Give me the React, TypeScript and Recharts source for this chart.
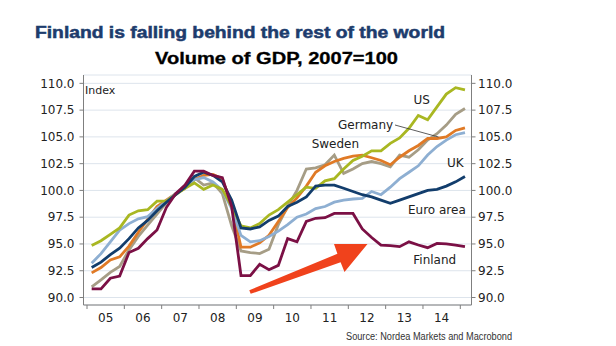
import React from 'react';
import { LineChart, Line, XAxis, YAxis, CartesianGrid } from 'recharts';

// quarterly observations, 2005Q1 .. 2015Q1
const years = [2005, 2006, 2007, 2008, 2009, 2010, 2011, 2012, 2013, 2014, 2015];
const quarters = years.flatMap(y => (y < 2015 ? [1, 2, 3, 4] : [1]).map(q => `${y}Q${q}`));

const us = [94.85, 95.3, 95.9, 96.5, 97.7, 98.1, 98.2, 99.0, 99.0, 99.6, 100.2, 100.7, 100.1, 100.5, 100.1, 98.5, 96.7, 96.5, 96.9, 97.7, 98.2, 98.9, 99.6, 100.3, 100.2, 100.9, 101.1, 102.0, 102.8, 103.2, 103.7, 103.7, 104.4, 104.9, 105.8, 107.0, 106.6, 107.8, 109.0, 109.6, 109.4];
const germany = [92.3, 92.8, 93.5, 93.8, 94.8, 96.1, 97.3, 98.5, 99.1, 99.7, 100.2, 101.0, 101.4, 101.5, 101.1, 98.6, 94.7, 94.7, 95.1, 95.8, 97.1, 98.4, 99.3, 100.4, 101.7, 102.3, 102.7, 103.0, 103.2, 103.3, 103.05, 102.8, 102.4, 103.1, 103.7, 104.2, 104.85, 104.85, 105.0, 105.6, 105.85];
const sweden = [91.0, 91.65, 92.35, 92.9, 94.45, 95.7, 96.75, 97.8, 98.85, 99.65, 100.3, 101.2, 100.5, 100.7, 99.7, 96.7, 94.35, 94.2, 94.1, 94.5, 96.8, 98.5, 100.0, 102.0, 102.1, 102.4, 103.3, 101.6, 102.0, 102.5, 102.7, 102.5, 102.2, 103.3, 103.1, 103.8, 104.7, 105.3, 106.1, 107.1, 107.65];
const uk = [93.2, 94.1, 95.2, 96.3, 96.9, 97.35, 97.55, 98.3, 99.0, 99.7, 100.3, 101.0, 101.2, 100.8, 100.0, 98.3, 95.8, 95.2, 95.3, 95.7, 96.2, 96.8, 97.5, 97.8, 98.3, 98.5, 98.9, 99.1, 99.2, 99.25, 99.9, 99.6, 100.3, 101.1, 101.7, 102.3, 103.3, 104.1, 104.7, 105.2, 105.4];
const euroArea = [92.8, 93.3, 94.0, 94.6, 95.5, 96.5, 97.2, 98.1, 98.9, 99.6, 100.3, 101.3, 101.7, 101.4, 100.8, 99.1, 96.5, 96.4, 96.6, 97.2, 97.6, 98.5, 98.9, 99.4, 100.4, 100.5, 100.5, 100.2, 99.9, 99.6, 99.4, 99.1, 98.8, 99.1, 99.4, 99.7, 100.0, 100.1, 100.4, 100.8, 101.3];
const finland = [90.8, 90.8, 91.8, 92.0, 94.2, 94.6, 95.5, 96.3, 98.4, 99.7, 100.5, 101.8, 101.8, 101.4, 101.2, 98.5, 92.05, 92.05, 93.1, 92.6, 93.0, 95.5, 95.2, 97.1, 97.4, 97.45, 97.85, 97.85, 97.85, 96.4, 95.6, 94.9, 94.85, 94.75, 95.2, 94.9, 94.65, 95.05, 95.0, 94.9, 94.75];

const yTicks = [90, 92.5, 95, 97.5, 100, 102.5, 105, 107.5, 110];

const chartData = quarters.map((label, i) => {
  const [y, q] = label.split('Q').map(Number);
  return {
    t: y + (q - 1) / 4 + 0.125,
    us: us[i],
    germany: germany[i],
    sweden: sweden[i],
    uk: uk[i],
    euro: euroArea[i],
    finland: finland[i],
  };
});

const X_DOMAIN: [number, number] = [2004.906, 2015.3];
const PLOT_W = 388;
const YEAR_PX = PLOT_W / (X_DOMAIN[1] - X_DOMAIN[0]);

const FONT = 'DejaVu Sans, Verdana, sans-serif';
const TITLE_FONT = 'Liberation Sans, Arial, sans-serif';

const YearTick = (props: any) => {
  const { x, y, payload } = props;
  if (payload.value >= 2015) return null;
  return (
    <text x={x + YEAR_PX / 2} y={y + 11} textAnchor="middle" fontSize={12} fontFamily={FONT} fill="#222">
      {String(payload.value).slice(2)}
    </text>
  );
};

const App = () => {
  const axisColor = '#7f7f7f';
  const tickStyle = { fontSize: 12, fontFamily: FONT, fill: '#222' };
  const label = { fontSize: 12, fontFamily: FONT, fill: '#222' };
  const lw = 2.8;

  return (
    <div style={{ position: 'absolute', left: 0, top: 0, width: 616, height: 346, background: '#fff' }}>
      <LineChart width={616} height={346} data={chartData} margin={{ top: 75, right: 0, bottom: 0, left: 0 }}>
        <CartesianGrid vertical={false} stroke="#dde4ec" />
        <XAxis
          type="number"
          dataKey="t"
          domain={X_DOMAIN}
          ticks={years}
          allowDataOverflow
          height={41}
          tickSize={4}
          axisLine={{ stroke: axisColor }}
          tickLine={{ stroke: axisColor }}
          tick={<YearTick />}
        />
        <YAxis
          domain={[89.3, 110.78]}
          ticks={yTicks}
          allowDataOverflow
          width={83.5}
          tickSize={4}
          tickMargin={5}
          tickFormatter={(v: number) => v.toFixed(1)}
          axisLine={{ stroke: axisColor }}
          tickLine={{ stroke: axisColor }}
          tick={tickStyle}
        />
        <YAxis
          yAxisId="right"
          orientation="right"
          domain={[89.3, 110.78]}
          ticks={yTicks}
          allowDataOverflow
          width={144.5}
          tickSize={4}
          tickMargin={2.5}
          tickFormatter={(v: number) => v.toFixed(1)}
          axisLine={{ stroke: axisColor }}
          tickLine={{ stroke: axisColor }}
          tick={{ ...tickStyle, textAnchor: 'start' }}
        />
        <Line type="linear" dataKey="sweden" stroke="#a69d86" strokeWidth={lw} dot={false} isAnimationActive={false} />
        <Line type="linear" dataKey="germany" stroke="#e07a26" strokeWidth={lw} dot={false} isAnimationActive={false} />
        <Line type="linear" dataKey="uk" stroke="#8eafd2" strokeWidth={lw} dot={false} isAnimationActive={false} />
        <Line type="linear" dataKey="us" stroke="#a9b722" strokeWidth={lw} dot={false} isAnimationActive={false} />
        <Line type="linear" dataKey="euro" stroke="#123d6c" strokeWidth={lw} dot={false} isAnimationActive={false} />
        <Line type="linear" dataKey="finland" stroke="#7b1045" strokeWidth={lw} dot={false} isAnimationActive={false} />
      </LineChart>

      {/* titles, series labels and the arrow */}
      <svg width={616} height={346} style={{ position: 'absolute', left: 0, top: 0, pointerEvents: 'none' }}>
        <text x={35} y={37.7} fontSize={16} fontWeight="bold" fontFamily={TITLE_FONT} fill="#1d3c6d" stroke="#1d3c6d" strokeWidth={0.5} textLength={410} lengthAdjust="spacingAndGlyphs">
          Finland is falling behind the rest of the world
        </text>
        <text x={155} y={64} fontSize={16} fontWeight="bold" fontFamily={TITLE_FONT} fill="#000" stroke="#000" strokeWidth={0.3} textLength={243} lengthAdjust="spacingAndGlyphs">
          Volume of GDP, 2007=100
        </text>
        <text x={85} y={94} fontSize={11} fontFamily={FONT} fill="#222">Index</text>

        <text x={421.7} y={104.3} textAnchor="middle" {...label}>US</text>
        <text x={338} y={128.6} {...label}>Germany</text>
        <line x1={395} y1={125} x2={438.5} y2={137} stroke="#333" strokeWidth={0.8} />
        <text x={311.7} y={148.3} {...label}>Sweden</text>
        <text x={447} y={166.5} {...label}>UK</text>
        <text x={408} y={214.3} {...label}>Euro area</text>
        <text x={413.3} y={264.3} {...label}>Finland</text>

        <polygon
          points="249.3,290.2 337.4,253.8 334,244 367.5,244 344.5,272 340.6,262.2 250.7,293.8"
          fill="#f0421c"
        />

        <text x={346} y={339.5} fontSize={10} fontFamily={TITLE_FONT} fill="#333" textLength={166} lengthAdjust="spacingAndGlyphs">
          Source: Nordea Markets and Macrobond
        </text>
      </svg>
    </div>
  );
};

export default App;
